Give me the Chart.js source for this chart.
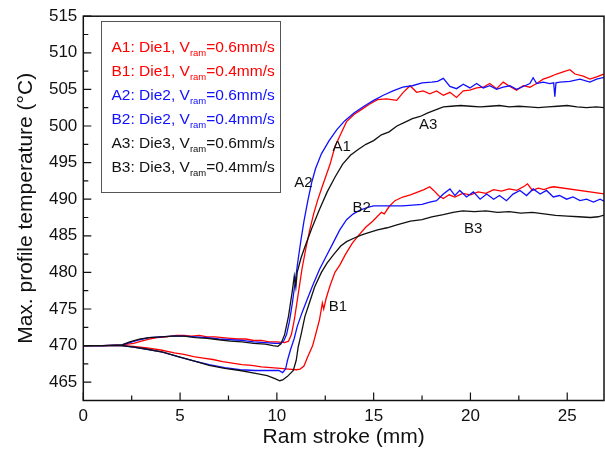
<!DOCTYPE html>
<html>
<head>
<meta charset="utf-8">
<script src="https://cdn.jsdelivr.net/npm/chart.js@4.4.1/dist/chart.umd.min.js"></script>
<style>
  html, body { margin: 0; padding: 0; background: #fff; }
  canvas { display: block; }
</style>
</head>
<body>
<canvas id="tempChart" width="605" height="455"></canvas>
<script>
// --- data (x = ram stroke in mm, y = temperature in °C) ---
const a1X = [0, 1.0, 2.0, 2.6, 3.0, 3.4, 3.8, 4.3, 4.8, 5.2, 5.6, 6.0, 6.4, 6.8, 7.2, 7.6, 8.0, 8.4, 8.8, 9.2, 9.6, 10.0, 10.4, 10.6, 10.75, 10.9, 11.1, 11.3, 11.5, 11.7, 11.9, 12.1, 12.3, 12.5, 12.75, 13.0, 13.3, 13.6, 14.0, 14.4, 14.8, 15.2,
    15.67, 16.19, 16.53, 16.88, 17.22, 17.56, 17.9, 18.25, 18.6, 18.94, 19.28, 19.63, 19.97, 20.32, 20.66, 21.0, 21.35, 21.69, 22.04, 22.38, 22.73, 23.07, 23.42, 23.76, 24.1, 24.45, 24.79, 25.14, 25.4, 25.83, 26.17, 26.52, 27.0];
const a1Y = [470.0, 470.0, 470.1, 470.3, 470.6, 470.9, 471.1, 471.2, 471.4, 471.4, 471.3, 471.4, 471.2, 471.2, 471.1, 471.0, 470.9, 470.9, 470.7, 470.7, 470.5, 470.5, 470.4, 470.6, 471.5, 473.5, 477.0, 480.5, 483.3, 485.8, 488.0, 489.8, 491.4, 492.9, 494.8, 497.2, 498.9, 500.6, 501.6, 502.3, 503.0, 503.6,
    503.7, 503.5, 504.6, 505.5, 504.6, 504.8, 504.4, 504.8, 504.2, 504.6, 503.9, 504.8, 504.9, 505.2, 505.3, 505.8, 505.1, 506.0, 505.4, 504.9, 505.5, 505.3, 505.8, 506.4, 506.7, 507.1, 507.4, 507.7, 507.1, 506.8, 506.4, 506.7, 507.2];

const b1X = [0, 1.0, 2.0, 2.6, 3.3, 4.0, 4.7, 5.2, 5.7, 6.2, 6.7, 7.2, 7.7, 8.2, 8.7, 9.2, 9.7, 10.2, 10.6, 11.0, 11.2, 11.4, 11.6, 11.85, 12.05, 12.2, 12.35, 12.42, 12.55, 12.75, 13.0, 13.25, 13.55, 13.9, 14.2, 14.6, 14.95, 15.4, 15.55, 15.8, 16.1, 16.5, 16.9, 17.3, 17.6, 17.9, 18.1, 18.35, 18.6, 18.9, 19.2, 19.6, 20.0, 20.4, 20.8, 21.2, 21.6, 22.0, 22.4, 22.8, 22.95, 23.2, 23.5, 23.8, 24.1, 24.3, 27.5];
const b1Y = [470.0, 470.0, 470.0, 469.9, 469.7, 469.4, 469.0, 468.8, 468.5, 468.3, 468.1, 467.8, 467.6, 467.4, 467.3, 467.1, 467.0, 466.9, 466.8, 466.7, 466.8, 467.2, 468.5, 470.0, 472.0, 473.5, 475.8, 475.0, 476.5, 478.2, 480.0, 481.0, 482.5, 484.0, 485.0, 486.2, 487.0, 488.2, 488.0, 489.0, 489.8, 490.3, 490.6, 491.0, 491.3, 491.7, 491.2, 490.5, 490.1, 490.6, 490.3, 490.8, 490.6, 491.0, 490.8, 491.3, 491.1, 491.4, 491.2, 491.8, 492.1, 491.2, 491.5, 491.3, 491.6, 491.7, 490.5];

const a2X = [0, 1.0, 2.0, 2.4, 2.9, 3.4, 4.0, 4.6, 5.2, 5.8, 6.4, 7.0, 7.6, 8.2, 8.8, 9.4, 9.9, 10.2, 10.35, 10.5, 10.65, 10.8, 10.95, 11.1, 11.25, 11.4, 11.6, 11.8, 12.0, 12.3, 12.7, 13.1, 13.5, 14.0, 14.5, 15.0, 15.5, 16.0, 16.5, 17.0, 17.5, 18.0,
    18.3, 18.6, 18.94, 19.28, 19.63, 19.97, 20.32, 20.66, 21.0, 21.35, 21.69, 22.04, 22.38, 22.73, 23.07, 23.24, 23.42, 23.76, 24.1, 24.3, 24.36, 24.42, 24.62, 25.14, 25.66, 26.17, 26.52, 27.0];
const a2Y = [470.0, 470.0, 470.1, 470.4, 470.8, 471.1, 471.2, 471.3, 471.3, 471.2, 471.1, 470.9, 470.8, 470.7, 470.5, 470.4, 470.3, 470.3, 470.6, 471.5, 473.3, 475.8, 478.8, 481.8, 484.5, 487.0, 489.8, 492.3, 494.2, 496.2, 498.0, 499.5, 500.7, 501.8, 502.7, 503.5, 504.2, 504.8, 505.3, 505.5, 505.9, 506.0,
    506.1, 506.5, 505.4, 505.1, 505.7, 505.2, 505.8, 505.2, 505.5, 505.0, 505.3, 505.5, 505.0, 505.4, 505.8, 506.6, 505.8, 506.0, 505.8, 505.9, 504.0, 505.9, 506.0, 506.1, 506.4, 506.0, 506.4, 506.7];

const b2X = [0, 1.0, 2.0, 2.6, 3.3, 4.1, 4.9, 5.7, 6.5, 7.3, 8.1, 8.9, 9.6, 10.1, 10.3, 10.45, 10.55, 10.7, 10.9, 11.05, 11.3, 11.55, 11.85, 12.2, 12.55, 12.9, 13.25, 13.6, 13.95, 14.3, 14.7, 15.0, 15.5, 16.0, 16.5, 17.0, 17.5, 17.9,
    18.25, 18.6, 18.94, 19.2, 19.45, 19.8, 20.15, 20.5, 20.84, 21.2, 21.5, 21.86, 22.2, 22.56, 22.9, 23.24, 23.6, 23.93, 24.28, 24.6, 24.97, 25.3, 25.66, 26.0, 26.35, 26.7, 27.0];
const b2Y = [470.0, 470.0, 470.0, 469.8, 469.5, 469.1, 468.5, 467.9, 467.4, 467.0, 466.7, 466.6, 466.6, 466.6, 466.3, 466.8, 468.0, 469.4, 471.0, 472.6, 474.5, 476.2, 478.2, 480.4, 482.2, 484.0, 485.8, 487.2, 488.0, 488.5, 488.9, 489.1, 489.1, 489.1, 489.1, 489.2, 489.3, 489.6,
    489.8, 490.7, 491.4, 490.5, 491.2, 490.3, 491.0, 490.0, 490.7, 490.0, 490.5, 489.8, 490.7, 491.2, 490.5, 491.4, 490.7, 491.2, 490.3, 490.5, 490.0, 490.3, 489.8, 490.0, 489.6, 490.0, 489.6];

const a3X = [0, 1.0, 2.0, 2.4, 2.9, 3.4, 4.0, 4.6, 5.2, 5.8, 6.4, 7.0, 7.6, 8.2, 8.8, 9.4, 9.8, 10.05, 10.2, 10.4, 10.6, 10.8, 10.9, 10.98, 11.05, 11.25, 11.45, 11.8, 12.2, 12.6, 13.0, 13.4, 13.8, 14.2, 14.6, 15.0, 15.4, 15.8, 16.2, 16.6, 17.0, 17.4, 17.8, 18.2, 18.6, 19.0, 19.5, 20.0, 20.5, 21.0, 21.5, 22.0, 22.5, 23.0, 23.5, 24.0, 24.5, 25.0, 25.5, 26.0, 26.5, 27.0];
const a3Y = [470.0, 470.0, 470.1, 470.5, 470.9, 471.1, 471.2, 471.3, 471.3, 471.1, 471.0, 470.8, 470.6, 470.5, 470.3, 470.2, 470.0, 469.9, 470.2, 471.5, 474.0, 477.5, 479.5, 478.0, 480.0, 482.0, 483.5, 486.0, 488.6, 491.0, 493.0, 494.8, 496.0, 496.8, 497.5, 498.0, 498.8, 499.2, 500.0, 500.5, 501.0, 501.3, 501.8, 502.2, 502.6, 502.7, 502.8, 502.7, 502.6, 502.7, 502.8, 502.6, 502.7, 502.6, 502.5, 502.6, 502.7, 502.8, 502.6, 502.5, 502.6, 502.5];

const b3X = [0, 1.0, 2.0, 2.6, 3.3, 4.1, 4.9, 5.7, 6.5, 7.3, 8.1, 8.9, 9.5, 9.9, 10.15, 10.3, 10.55, 10.85, 11.0, 11.1, 11.25, 11.45, 11.7, 11.95, 12.3, 12.6, 12.95, 13.3, 13.6, 14.0, 14.35, 14.7, 15.2, 15.7, 16.2, 16.9, 17.5, 18.0, 18.6, 19.1, 19.6, 20.2, 20.8, 21.4, 22.0, 22.6, 23.2, 23.8, 24.4, 25.0, 25.6, 26.2, 26.6, 27.0];
const b3Y = [470.0, 470.0, 470.0, 469.8, 469.5, 469.1, 468.5, 467.9, 467.3, 466.9, 466.6, 466.2, 465.9, 465.5, 465.2, 465.3, 465.8, 466.6, 468.0, 469.8, 471.5, 474.0, 476.0, 478.0, 480.0, 481.3, 482.5, 483.6, 484.2, 484.7, 485.1, 485.4, 485.8, 486.1, 486.5, 487.0, 487.2, 487.6, 487.9, 488.2, 488.4, 488.3, 488.4, 488.2, 488.3, 488.1, 488.2, 488.0, 487.8, 487.7, 487.6, 487.5, 487.6, 487.9];

// axis ticks
const xTicks = [0, 5, 10, 15, 20, 25];
const yTicks = [465, 470, 475, 480, 485, 490, 495, 500, 505, 510, 515];

// legend entries (same order as in the figure)
const legendNames = ['A1', 'B1', 'A2', 'B2', 'A3', 'B3'];
const legendDies = ['Die1', 'Die1', 'Die2', 'Die2', 'Die3', 'Die3'];
const legendSpeeds = ['0.6', '0.4', '0.6', '0.4', '0.6', '0.4'];

// curve tags written next to the lines, in data coordinates
const tagNames = ['A1', 'A2', 'A3', 'B1', 'B2', 'B3'];
const tagX = [13.35, 11.37, 17.82, 13.16, 14.38, 20.14];
const tagY = [497.1, 492.2, 500.1, 475.3, 488.8, 486.0];

const RED = '#ff0000';
const BLUE = '#1010ff';
const BLACK = '#111111';
const legendColors = [RED, RED, BLUE, BLUE, BLACK, BLACK];

const FONT = "'Liberation Sans', Arial, sans-serif";
Chart.defaults.font.family = FONT;
Chart.defaults.color = '#111';

const toPoints = (xs, ys) => xs.map((x, i) => ({ x, y: ys[i] }));

const lineSet = (label, xs, ys, color) => ({
    label,
    data: toPoints(xs, ys),
    borderColor: color,
    backgroundColor: color,
    borderWidth: 1.3,
    pointRadius: 0,
    tension: 0,
    fill: false
});

// frame, inward major/minor ticks, curve tags and text legend
const decorPlugin = {
    id: 'decor',
    afterDatasetsDraw(chart) {
        const { ctx, chartArea: a, scales: { x, y } } = chart;
        ctx.save();
        ctx.strokeStyle = '#111';
        ctx.lineWidth = 1.5;
        ctx.strokeRect(a.left, a.top, a.right - a.left, a.bottom - a.top);

        ctx.lineWidth = 1.2;
        ctx.beginPath();
        xTicks.forEach(v => {
            const px = x.getPixelForValue(v);
            ctx.moveTo(px, a.bottom); ctx.lineTo(px, a.bottom - 8);
            const mid = x.getPixelForValue(v + 2.5);
            if (mid < a.right) { ctx.moveTo(mid, a.bottom); ctx.lineTo(mid, a.bottom - 5); }
        });
        yTicks.forEach(v => {
            const py = y.getPixelForValue(v);
            ctx.moveTo(a.left, py); ctx.lineTo(a.left + 8, py);
            const mid = y.getPixelForValue(v - 2.5);
            if (mid < a.bottom) { ctx.moveTo(a.left, mid); ctx.lineTo(a.left + 5, mid); }
        });
        ctx.stroke();

        // curve tags
        ctx.fillStyle = '#111';
        ctx.font = '15px ' + FONT;
        ctx.textAlign = 'center';
        ctx.textBaseline = 'middle';
        tagNames.forEach((t, i) => {
            ctx.fillText(t, x.getPixelForValue(tagX[i]), y.getPixelForValue(tagY[i]));
        });

        // legend box
        ctx.fillStyle = '#fff';
        ctx.fillRect(102, 22, 178, 170);
        ctx.strokeStyle = '#555';
        ctx.lineWidth = 1;
        ctx.strokeRect(101.5, 21.5, 179, 171);
        ctx.textAlign = 'left';
        ctx.textBaseline = 'alphabetic';
        legendNames.forEach((n, i) => {
            const base = 51.5 + i * 24;
            let px = 111.5;
            ctx.fillStyle = legendColors[i];
            ctx.font = '15.5px ' + FONT;
            const head = n + ': ' + legendDies[i] + ', V';
            ctx.fillText(head, px, base);
            px += ctx.measureText(head).width;
            ctx.font = '9.5px ' + FONT;
            ctx.fillText('ram', px, base + 4.5);
            px += ctx.measureText('ram').width;
            ctx.font = '15.5px ' + FONT;
            ctx.fillText('=' + legendSpeeds[i] + 'mm/s', px, base);
        });
        ctx.restore();
    }
};

new Chart(document.getElementById('tempChart'), {
    type: 'line',
    data: {
        datasets: [
            lineSet('A3', a3X, a3Y, BLACK),
            lineSet('B3', b3X, b3Y, BLACK),
            lineSet('A2', a2X, a2Y, BLUE),
            lineSet('B2', b2X, b2Y, BLUE),
            lineSet('A1', a1X, a1Y, RED),
            lineSet('B1', b1X, b1Y, RED)
        ]
    },
    options: {
        responsive: false,
        animation: false,
        layout: { padding: { top: 16, right: 1, left: 0, bottom: 0 } },
        plugins: {
            legend: { display: false },
            tooltip: { enabled: false }
        },
        scales: {
            x: {
                type: 'linear',
                min: 0,
                max: 26.9,
                afterBuildTicks: (s) => { s.ticks = xTicks.map(v => ({ value: v })); },
                afterFit: (s) => { s.height = 54.5; },
                grid: { display: false, drawTicks: false },
                border: { display: false },
                ticks: { padding: 6, font: { size: 17 }, color: '#111' },
                title: {
                    display: true,
                    text: 'Ram stroke (mm)',
                    font: { size: 21 },
                    color: '#111',
                    padding: { top: 0, bottom: 5 }
                }
            },
            y: {
                type: 'linear',
                min: 462.5,
                max: 515,
                afterBuildTicks: (s) => { s.ticks = yTicks.map(v => ({ value: v })); },
                afterFit: (s) => { s.width = 83.3; },
                grid: { display: false, drawTicks: false },
                border: { display: false },
                ticks: { padding: 6, font: { size: 17 }, color: '#111' },
                title: {
                    display: true,
                    text: 'Max. profile temperature (°C)',
                    font: { size: 21 },
                    color: '#111',
                    padding: { top: 14, bottom: 0 }
                }
            }
        }
    },
    plugins: [decorPlugin]
});
</script>
</body>
</html>
